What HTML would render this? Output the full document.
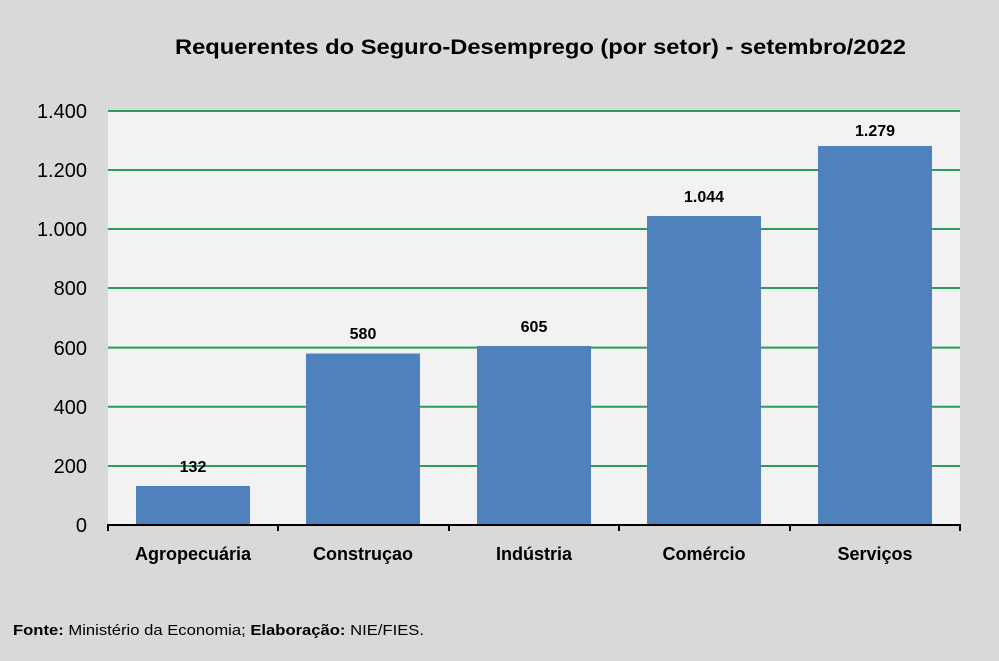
<!DOCTYPE html>
<html><head><meta charset="utf-8"><style>
html,body{margin:0;padding:0;background:#d9d9d9;}
svg{display:block;font-family:"Liberation Sans",sans-serif;}
</style></head><body>
<svg width="999" height="661" viewBox="0 0 999 661" xmlns="http://www.w3.org/2000/svg">
<rect width="999" height="661" fill="#d9d9d9"/>
<text x="175" y="54" font-size="21" font-weight="bold" fill="#000" textLength="731" lengthAdjust="spacingAndGlyphs">Requerentes do Seguro-Desemprego (por setor) - setembro/2022</text>
<rect x="108" y="111" width="852" height="414" fill="#f2f2f2"/>
<g stroke="#2e9a5c" stroke-width="2">
<line x1="108" y1="111" x2="960" y2="111"/>
<line x1="108" y1="170" x2="960" y2="170"/>
<line x1="108" y1="229" x2="960" y2="229"/>
<line x1="108" y1="288" x2="960" y2="288"/>
<line x1="108" y1="347.6" x2="960" y2="347.6"/>
<line x1="108" y1="406.7" x2="960" y2="406.7"/>
<line x1="108" y1="466" x2="960" y2="466"/>
</g>
<g font-size="20" fill="#000" text-anchor="end">
<text x="87" y="118">1.400</text>
<text x="87" y="177">1.200</text>
<text x="87" y="236">1.000</text>
<text x="87" y="295">800</text>
<text x="87" y="355">600</text>
<text x="87" y="414">400</text>
<text x="87" y="473">200</text>
<text x="87" y="532">0</text>
</g>
<g fill="#4f81bd">
<rect x="136" y="486" width="114" height="39"/>
<rect x="306" y="353.5" width="114" height="171.5"/>
<rect x="477" y="346" width="114" height="179"/>
<rect x="647" y="216" width="114" height="309"/>
<rect x="818" y="146" width="114" height="379"/>
</g>
<g stroke="#000" stroke-width="2">
<line x1="107" y1="525" x2="961" y2="525"/>
<line x1="108" y1="525" x2="108" y2="531"/>
<line x1="278" y1="525" x2="278" y2="531"/>
<line x1="449" y1="525" x2="449" y2="531"/>
<line x1="619" y1="525" x2="619" y2="531"/>
<line x1="790" y1="525" x2="790" y2="531"/>
<line x1="960" y1="525" x2="960" y2="531"/>
</g>
<g font-size="16" font-weight="bold" text-anchor="middle" fill="#000">
<text x="193" y="472">132</text>
<text x="363" y="339">580</text>
<text x="534" y="332">605</text>
<text x="704" y="202">1.044</text>
<text x="875" y="136">1.279</text>
</g>
<g font-size="18" font-weight="bold" text-anchor="middle" fill="#000">
<text x="193" y="560">Agropecuária</text>
<text x="363" y="560">Construçao</text>
<text x="534" y="560">Indústria</text>
<text x="704" y="560">Comércio</text>
<text x="875" y="560">Serviços</text>
</g>
<text x="13" y="635" font-size="15" fill="#000" textLength="411" lengthAdjust="spacingAndGlyphs"><tspan font-weight="bold">Fonte:</tspan> Ministério da Economia; <tspan font-weight="bold">Elaboração:</tspan> NIE/FIES.</text>
</svg>
</body></html>
